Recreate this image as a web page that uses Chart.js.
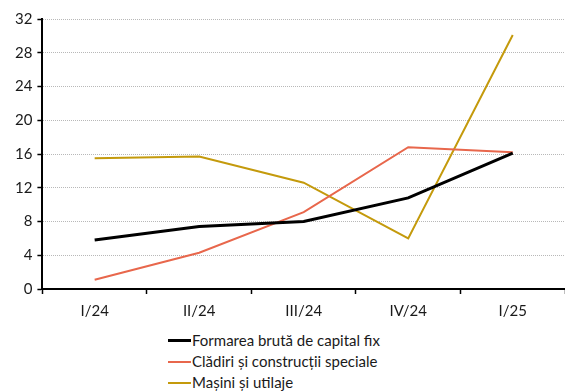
<!DOCTYPE html>
<html>
<head>
<meta charset="utf-8">
<script src="https://cdn.jsdelivr.net/npm/chart.js@4/dist/chart.umd.min.js"></script>
<style>
  html, body { margin: 0; padding: 0; background: #fff; overflow: hidden; }
  body { width: 565px; height: 391px; font-family: Lato, sans-serif; }
  #wrap { position: relative; width: 565px; height: 328px; }
  #legend { position: absolute; left: 168px; top: 330px; margin: 0; padding: 0; list-style: none; }
  #legend li { height: 21px; line-height: 21px; font-size: 15px; color: #1a1a1a; white-space: nowrap; display: flex; align-items: center; }
  #legend .mk { display: inline-block; width: 23px; margin-right: 1px; }
</style>
</head>
<body>
<div id="wrap"><canvas id="chart"></canvas></div>
<ul id="legend"></ul>
<script>
// ── Data ──────────────────────────────────────────────────────────────────
const categories = ['I/24', 'II/24', 'III/24', 'IV/24', 'I/25'];
const formareaBruta = [5.8, 7.4, 8.0, 10.8, 16.1];
const cladiri       = [1.1, 4.3, 9.1, 16.8, 16.2];
const masini        = [15.5, 15.7, 12.6, 6.0, 30.1];
const yTicks        = [0, 4, 8, 12, 16, 20, 24, 28, 32];

const series = [
  { label: 'Formarea brută de capital fix',    data: formareaBruta, color: '#000000', width: 3 },
  { label: 'Clădiri și construcții speciale',   data: cladiri,       color: '#E8674C', width: 2 },
  { label: 'Mașini și utilaje',                 data: masini,        color: '#C49A0C', width: 2 },
];

// ── Chart ─────────────────────────────────────────────────────────────────
const fontFamily = 'Lato, sans-serif';

new Chart(document.getElementById('chart').getContext('2d'), {
  type: 'line',
  data: {
    labels: categories,
    datasets: series.map(s => ({
      label: s.label,
      data: s.data,
      borderColor: s.color,
      backgroundColor: s.color,
      borderWidth: s.width,
      pointRadius: 0,
      tension: 0,
      fill: false,
    })),
  },
  options: {
    responsive: true,
    maintainAspectRatio: false,
    animation: false,
    layout: { padding: { top: 19, right: 0, left: 10, bottom: 0 } },
    plugins: { legend: { display: false }, tooltip: { enabled: false } },
    scales: {
      x: {
        offset: true,
        grid: { offset: true, drawOnChartArea: false, tickLength: 5, tickColor: '#000', tickWidth: 1.5 },
        border: { color: '#000', width: 2 },
        ticks: { color: '#1a1a1a', font: { family: fontFamily, size: 15 }, padding: 8, maxRotation: 0 },
      },
      y: {
        min: 0,
        max: 32,
        afterBuildTicks: axis => { axis.ticks = yTicks.map(v => ({ value: v })); },
        grid: { color: '#b8b8b8', lineWidth: 1, tickLength: 5, tickColor: '#000', tickWidth: 1.5 },
        border: { color: '#000', width: 2, dash: [1, 1] },
        ticks: { color: '#1a1a1a', font: { family: fontFamily, size: 15 }, padding: 5 },
      },
    },
  },
});

// ── HTML legend ───────────────────────────────────────────────────────────
const legend = document.getElementById('legend');
for (const s of series) {
  const li = document.createElement('li');
  li.innerHTML = `<span class="mk" style="height:${s.width}px;background:${s.color}"></span>${s.label}`;
  legend.appendChild(li);
}
</script>
</body>
</html>
